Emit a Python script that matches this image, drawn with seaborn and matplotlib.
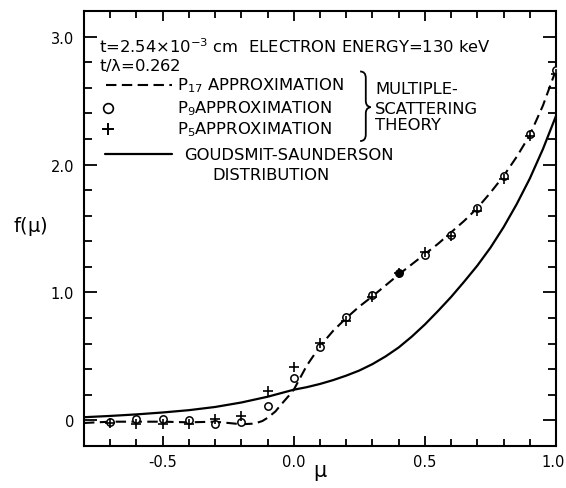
import numpy as np
import pandas as pd
import matplotlib
matplotlib.use("Agg")
import matplotlib.pyplot as plt
from matplotlib.path import Path
from matplotlib.patches import PathPatch
from matplotlib.transforms import ScaledTranslation
from matplotlib.ticker import MultipleLocator, FixedLocator, FixedFormatter
import seaborn as sns

# P17 approximation (dashed curve)
p17_mu = [-0.8, -0.7, -0.6, -0.5, -0.4, -0.3, -0.25, -0.2, -0.15, -0.12, -0.1,
          -0.07, -0.05, -0.02, 0.0, 0.05, 0.1, 0.15, 0.2, 0.25, 0.3, 0.35, 0.4,
          0.45, 0.5, 0.55, 0.6, 0.65, 0.7, 0.75, 0.8, 0.85, 0.9, 0.95, 1.0]
p17_f = [-0.02, -0.01, -0.01, -0.01, -0.015, -0.01, -0.02, -0.03, -0.025, -0.005,
         0.02, 0.07, 0.12, 0.19, 0.24, 0.43, 0.58, 0.70, 0.80, 0.89, 0.97, 1.055,
         1.14, 1.22, 1.30, 1.38, 1.47, 1.56, 1.66, 1.78, 1.91, 2.06, 2.23, 2.46,
         2.74]

# Goudsmit-Saunderson distribution (solid curve)
gs_mu = [-0.8, -0.7, -0.6, -0.5, -0.4, -0.3, -0.2, -0.1, 0.0, 0.05, 0.1, 0.15,
         0.2, 0.25, 0.3, 0.35, 0.4, 0.45, 0.5, 0.55, 0.6, 0.65, 0.7, 0.75, 0.8,
         0.85, 0.9, 0.95, 1.0]
gs_f = [0.025, 0.035, 0.047, 0.062, 0.08, 0.105, 0.14, 0.185, 0.24, 0.26, 0.285,
        0.315, 0.35, 0.39, 0.44, 0.50, 0.57, 0.655, 0.75, 0.855, 0.965, 1.085,
        1.21, 1.35, 1.51, 1.69, 1.89, 2.12, 2.38]

# P9 and P5 approximations (points)
pts_mu = [-0.7, -0.6, -0.5, -0.4, -0.3, -0.2, -0.1, 0.0, 0.1, 0.2, 0.3, 0.4,
          0.5, 0.6, 0.7, 0.8, 0.9, 1.0]
p9_f = [-0.013, 0.008, 0.013, 0.0, -0.025, -0.012, 0.115, 0.33, 0.575, 0.81,
        0.98, 1.15, 1.29, 1.45, 1.66, 1.91, 2.24, 2.74]
p9_solid = [False, False, False, False, False, False, False, False, False, False,
            False, True, False, False, False, False, False, False]
p5_f = [-0.02, -0.03, -0.03, -0.03, 0.008, 0.035, 0.23, 0.415, 0.605, 0.78,
        0.965, 1.15, 1.32, 1.44, 1.64, 1.89, 2.22, 2.71]

xticks = [-0.5, 0.0, 0.5, 1.0]
xticklabels = ["-0.5", "0.0", "0.5", "1.0"]
yticks = [0.0, 1.0, 2.0, 3.0]
yticklabels = ["0", "1.0", "2.0", "3.0"]

sns.set_theme(style="ticks")
plt.rcParams["font.family"] = ["DejaVu Sans"]
plt.rcParams["mathtext.default"] = "regular"
plt.rcParams["text.color"] = "black"
plt.rcParams["axes.labelcolor"] = "black"
plt.rcParams["xtick.color"] = "black"
plt.rcParams["ytick.color"] = "black"

fig = plt.figure(figsize=(5.66, 4.89), dpi=100)
ax = fig.add_axes([84 / 566, 1 - 447 / 489, 472 / 566, 435 / 489])
ax.set_facecolor("white")

p17 = pd.DataFrame({"mu": p17_mu, "f": p17_f})
gs = pd.DataFrame({"mu": gs_mu, "f": gs_f})
pts = pd.DataFrame({"mu": pts_mu, "p9": p9_f, "p5": p5_f, "solid": p9_solid})

sns.lineplot(data=gs, x="mu", y="f", ax=ax, color="black", lw=1.6, sort=False)
sns.lineplot(data=p17, x="mu", y="f", ax=ax, color="black", lw=1.5, sort=False,
             dashes=False, linestyle=(0, (5, 2.6)))
sns.scatterplot(data=pts[~pts["solid"]], x="mu", y="p9", ax=ax, marker="o", s=28,
                facecolors="white", edgecolor="black", linewidth=1.1, zorder=3)
sns.scatterplot(data=pts[pts["solid"]], x="mu", y="p9", ax=ax, marker="o", s=28,
                color="black", edgecolor="black", linewidth=1.1, zorder=3)
sns.scatterplot(data=pts, x="mu", y="p5", ax=ax, marker="+", s=45,
                color="black", linewidth=1.2, zorder=4)

ax.set_xlim(-0.8, 1.0)
ax.set_ylim(-0.2, 3.2)
ax.xaxis.set_major_locator(FixedLocator(xticks))
ax.xaxis.set_major_formatter(FixedFormatter(xticklabels))
ax.xaxis.set_minor_locator(MultipleLocator(0.1))
ax.yaxis.set_major_locator(FixedLocator(yticks))
ax.yaxis.set_major_formatter(FixedFormatter(yticklabels))
ax.yaxis.set_minor_locator(MultipleLocator(0.2))

ax.tick_params(which="both", direction="in", top=True, right=True,
               width=1.3, colors="black", labelsize=10.5)
ax.tick_params(axis="x", which="major", length=7.5, pad=6)
ax.tick_params(axis="x", which="minor", length=5)
ax.tick_params(axis="y", which="major", length=9.5, pad=7)
ax.tick_params(axis="y", which="minor", length=6)
for sp in ax.spines.values():
    sp.set_linewidth(1.5)
    sp.set_color("black")

# keep the rightmost x tick label inside the canvas
last = ax.xaxis.get_major_ticks()[-1].label1
last.set_transform(last.get_transform() +
                   ScaledTranslation(-2 / 72, 0, fig.dpi_scale_trans))

ax.set_xlabel(r"$\mu$", fontsize=15, va="center")
ax.xaxis.set_label_coords(0.5, -0.06)
ax.set_ylabel(r"f($\mu$)", fontsize=14, rotation=0, va="center", ha="center")
ax.yaxis.set_label_coords(-0.114, 0.506)

# Annotation block
tf = ax.transAxes
fs = 11.8
ax.text(0.032, 0.920, r"t=2.54$\times$10$^{-3}$ cm  ELECTRON ENERGY=130 keV",
        transform=tf, fontsize=fs, va="center", ha="left")
ax.text(0.032, 0.876, r"t/$\lambda$=0.262", transform=tf, fontsize=fs,
        va="center", ha="left")

ax.plot([0.047, 0.186], [0.830, 0.830], transform=tf, color="black", lw=1.5,
        linestyle=(0, (5, 2.6)))
ax.text(0.197, 0.830, r"P$_{17}$ APPROXIMATION", transform=tf, fontsize=fs,
        va="center", ha="left")
ax.plot([0.051], [0.777], transform=tf, marker="o", ms=7, mfc="white",
        mec="black", mew=1.2, ls="none")
ax.text(0.197, 0.777, r"P$_9$APPROXIMATION", transform=tf, fontsize=fs,
        va="center", ha="left")
ax.plot([0.051], [0.729], transform=tf, marker="+", ms=9, mec="black",
        mew=1.4, ls="none")
ax.text(0.197, 0.729, r"P$_5$APPROXIMATION", transform=tf, fontsize=fs,
        va="center", ha="left")
ax.plot([0.045, 0.186], [0.671, 0.671], transform=tf, color="black", lw=1.6)
ax.text(0.212, 0.671, "GOUDSMIT-SAUNDERSON", transform=tf, fontsize=fs,
        va="center", ha="left")
ax.text(0.273, 0.625, "DISTRIBUTION", transform=tf, fontsize=fs,
        va="center", ha="left")

# Brace grouping the three approximations
bx0, bx1, bx2 = 0.585, 0.597, 0.607
by_top, by_mid, by_bot = 0.861, 0.779, 0.701
verts = [(bx0, by_top), (bx1, by_top), (bx1, by_top - 0.015),
         (bx1, by_mid + 0.015),
         (bx1, by_mid), (bx2, by_mid), (bx2, by_mid),
         (bx2, by_mid), (bx1, by_mid), (bx1, by_mid - 0.015),
         (bx1, by_bot + 0.015),
         (bx1, by_bot), (bx0, by_bot)]
codes = [Path.MOVETO, Path.CURVE3, Path.CURVE3, Path.LINETO,
         Path.CURVE4, Path.CURVE4, Path.CURVE4,
         Path.CURVE4, Path.CURVE4, Path.CURVE4,
         Path.LINETO, Path.CURVE3, Path.CURVE3]
ax.add_patch(PathPatch(Path(verts, codes), transform=tf, fill=False,
                       lw=1.3, color="black"))
ax.text(0.617, 0.821, "MULTIPLE-", transform=tf, fontsize=fs, va="center", ha="left")
ax.text(0.617, 0.777, "SCATTERING", transform=tf, fontsize=fs, va="center", ha="left")
ax.text(0.617, 0.738, "THEORY", transform=tf, fontsize=fs, va="center", ha="left")

fig.savefig("out.png", dpi=100, facecolor="white")
